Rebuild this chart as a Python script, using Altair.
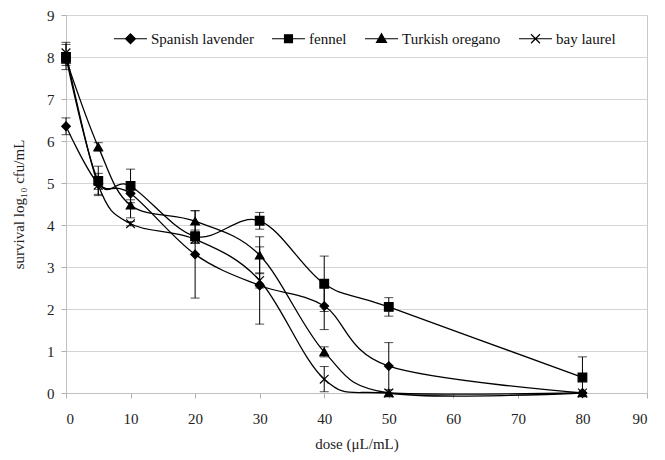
import altair as alt
import pandas as pd

series = ["Spanish lavender", "fennel", "Turkish oregano", "bay laurel"]
dose = [0, 5, 10, 20, 30, 40, 50, 80]

lavender = [6.35, 4.98, 4.75, 3.30, 2.56, 2.07, 0.64, 0.0]
lavender_err = [0.20, 0.25, 0.15, 1.04, 0.92, 0.56, 0.56, 0.0]
fennel = [8.00, 5.05, 4.93, 3.73, 4.10, 2.60, 2.05, 0.37]
fennel_err = [0.30, 0.35, 0.40, 0.15, 0.20, 0.66, 0.22, 0.49]
oregano = [7.95, 5.86, 4.47, 4.09, 3.28, 0.98, 0.0, 0.0]
oregano_err = [0.15, 0.10, 0.30, 0.25, 0.44, 0.12, 0.0, 0.0]
laurel = [8.10, 4.95, 4.03, 3.66, 2.68, 0.33, 0.0, 0.0]
laurel_err = [0.25, 0.10, 0.05, 0.10, 0.18, 0.30, 0.0, 0.0]

x_ticks = list(range(0, 91, 10))
y_ticks = list(range(0, 10))

point_shapes = ["diamond", "square", "triangle-up", "M-1,-1L1,1M-1,1L1,-1"]
legend_shapes = [
    "M-1,0H1M0,-0.3L0.3,0L0,0.3L-0.3,0Z",
    "M-1,0H1M-0.24,-0.24H0.24V0.24H-0.24Z",
    "M-1,0H1M0,-0.3L0.3,0.22H-0.3Z",
    "M-1,0H1M-0.27,-0.27L0.27,0.27M-0.27,0.27L0.27,-0.27",
]

rows = []
for name, vals, errs in zip(series,
                            [lavender, fennel, oregano, laurel],
                            [lavender_err, fennel_err, oregano_err, laurel_err]):
    for d, v, e in zip(dose, vals, errs):
        rows.append({"series": name, "dose": d, "value": v, "err": e,
                     "lo": max(0.0, v - e), "hi": v + e})
df = pd.DataFrame(rows)

FONT = "Liberation Serif"

xenc = alt.X("dose:Q",
             scale=alt.Scale(domain=[0, 90], nice=False),
             axis=alt.Axis(values=x_ticks, title="dose (μL/mL)", grid=False,
                           labelFont=FONT, titleFont=FONT,
                           labelPadding=13, titlePadding=10, tickSize=5))
yenc = alt.Y("value:Q",
             scale=alt.Scale(domain=[0, 9], nice=False),
             axis=alt.Axis(values=y_ticks, title="survival log₁₀ cfu/mL",
                           labelFont=FONT, titleFont=FONT,
                           grid=True, labelPadding=7, titlePadding=20, tickSize=5))

base = alt.Chart(df)

lines = base.mark_line(interpolate="cardinal", tension=0, color="black",
                       strokeWidth=1.3).encode(
    x=xenc, y=yenc, detail="series:N", order="dose:Q")

err = base.transform_filter("datum.err > 0")
rules = err.mark_rule(color="black", strokeWidth=1).encode(
    x="dose:Q", y="lo:Q", y2="hi:Q")
caps_lo = err.mark_tick(orient="horizontal", size=9, thickness=1,
                        color="black").encode(x="dose:Q", y="lo:Q")
caps_hi = err.mark_tick(orient="horizontal", size=9, thickness=1,
                        color="black").encode(x="dose:Q", y="hi:Q")

points = base.mark_point(filled=True, color="black", stroke="black",
                         strokeWidth=1.2, size=75, opacity=1).encode(
    x="dose:Q", y="value:Q",
    shape=alt.Shape("series:N",
                    scale=alt.Scale(domain=series, range=point_shapes),
                    legend=None))

legend_layer = base.transform_filter("false").mark_point(
    filled=False, color="black", fill="black", strokeWidth=1.2, opacity=1).encode(
    shape=alt.Shape("series:N",
                    scale=alt.Scale(domain=series, range=legend_shapes),
                    legend=alt.Legend(title=None, orient="none", direction="horizontal",
                                      columns=4, legendX=47, legendY=6,
                                      symbolSize=1089, symbolStrokeWidth=1.2,
                                      labelFont=FONT, labelFontSize=15,
                                      labelColor="#111", labelOffset=3,
                                      columnPadding=15)))

chart = alt.layer(lines, rules, caps_lo, caps_hi, points, legend_layer).resolve_scale(
    shape="independent"
).properties(
    width=581, height=378,
    autosize=alt.AutoSizeParams(type="none"),
    padding={"left": 58, "top": 7, "right": 10, "bottom": 62},
).configure(
    font=FONT
).configure_view(
    stroke="#c8c8c8", strokeWidth=1
).configure_axis(
    labelFont=FONT, titleFont=FONT, labelFontSize=15, titleFontSize=15,
    titleFontWeight="normal", labelColor="#222", titleColor="#222",
    domainColor="#c0c0c0", tickColor="#b0b0b0", gridColor="#d4d4d4",
)

chart.save("out.html", embed_options={"renderer": "svg", "actions": False})
